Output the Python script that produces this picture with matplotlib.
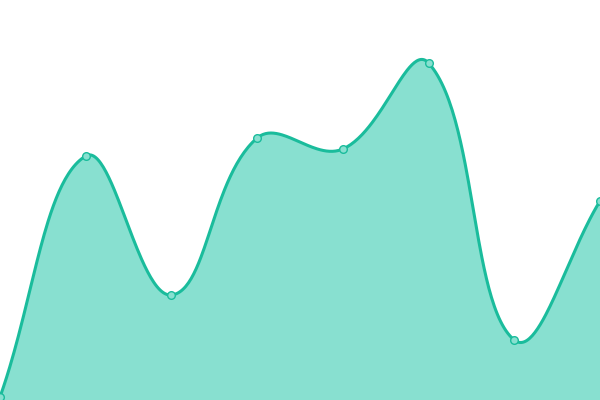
import numpy as np
import matplotlib
matplotlib.use("Agg")
import matplotlib.pyplot as plt

# values (0..100 scale, 0 at the bottom edge)
labels = ["1", "2", "3", "4", "5", "6", "7", "8"]
values = [0.75, 61, 26.25, 65.5, 62.75, 84.25, 15, 49.75]

line_color = "#1abc9c"
fill_color = "#88e0d0"
tension = 0.4

W, H = 600, 400


def spline_path(xs, ys, t):
    # cardinal spline like Chart.js (computed in pixel units)
    n = len(xs)
    cps = []
    for i in range(n):
        prev_i = max(i - 1, 0)
        next_i = min(i + 1, n - 1)
        p0 = np.array([xs[prev_i], ys[prev_i]])
        p1 = np.array([xs[i], ys[i]])
        p2 = np.array([xs[next_i], ys[next_i]])
        d01 = np.hypot(*(p1 - p0))
        d12 = np.hypot(*(p2 - p1))
        tot = d01 + d12
        s01 = d01 / tot if tot else 0
        s12 = d12 / tot if tot else 0
        c_prev = p1 - t * s01 * (p2 - p0)
        c_next = p1 + t * s12 * (p2 - p0)
        # keep control points inside the chart area
        c_prev = np.clip(c_prev, [0, 0], [W, H])
        c_next = np.clip(c_next, [0, 0], [W, H])
        cps.append((c_prev, c_next))
    px, py = [], []
    s = np.linspace(0, 1, 60)
    for i in range(n - 1):
        a = np.array([xs[i], ys[i]])
        b = cps[i][1]
        c = cps[i + 1][0]
        d = np.array([xs[i + 1], ys[i + 1]])
        for u in s:
            pt = (1 - u) ** 3 * a + 3 * (1 - u) ** 2 * u * b + 3 * (1 - u) * u ** 2 * c + u ** 3 * d
            px.append(pt[0])
            py.append(pt[1])
    return np.array(px), np.array(py)


x_pix = np.arange(len(values)) * W / (len(values) - 1)
y_pix = np.array(values) * H / 100.0

cx, cy = spline_path(x_pix, y_pix, tension)
cx = cx * (len(values) - 1) / W
cy = cy * 100.0 / H

fig = plt.figure(figsize=(6, 4), dpi=100)
ax = fig.add_axes([0, 0, 1, 1])
ax.set_xlim(0, len(values) - 1)
ax.set_ylim(0, 100)
ax.axis("off")

ax.fill_between(cx, cy, 0, color=fill_color, lw=0)
ax.plot(cx, cy, color=line_color, lw=2.2, solid_capstyle="round", clip_on=False)
ax.plot(range(len(values)), values, "o", ms=5.5, mfc=fill_color, mec=line_color,
        mew=1.0, clip_on=False, zorder=3)

fig.savefig("out.png", dpi=100)
